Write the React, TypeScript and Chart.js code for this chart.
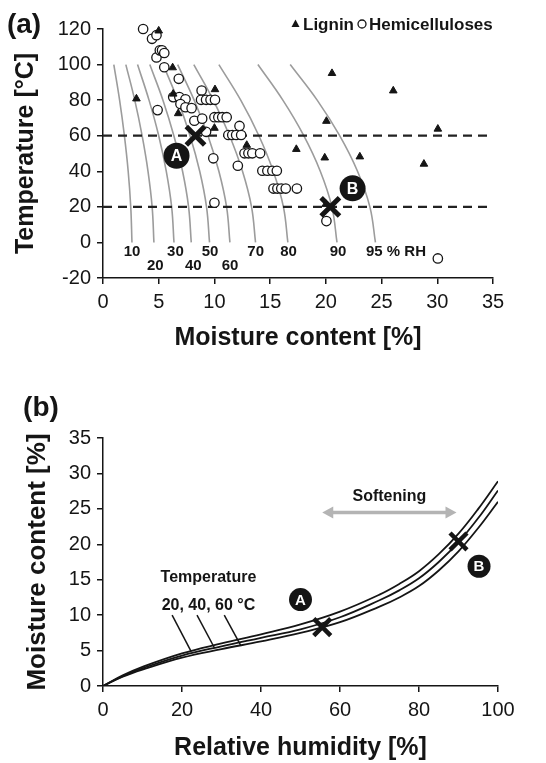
import React, { useEffect, useRef } from 'react';
import { Chart, registerables } from 'chart.js';

Chart.register(...registerables);

const FONT = "'Liberation Sans', Arial, Helvetica, sans-serif";
const INK = '#151515';
const GREY = '#9c9c9c';

// ---------------- Panel (a): temperature vs moisture content ----------------
const ligninMC = [5.0, 6.25, 3.0, 6.3, 10.05, 6.75, 10.0, 12.9, 17.35, 19.9, 23.05, 20.55, 26.05, 20.05, 30.05, 28.8, 20.0];
const ligninT = [119, 98.3, 80.8, 83.5, 86, 72.5, 64.3, 54.7, 52.4, 47.6, 48.2, 95.1, 85.3, 68.2, 63.8, 44.1, 21.5];

const hemiMC = [3.6, 4.4, 4.8, 4.8, 5.1, 5.3, 5.5, 5.5, 6.8, 6.3, 6.85, 7.4, 6.95, 7.4, 7.95, 4.9, 8.2, 8.9, 9.25, 8.85, 8.8, 9.25, 9.65, 10.05, 10.0, 10.35, 10.7, 11.1, 12.25, 11.25, 11.6, 11.95, 12.4, 9.9, 12.1, 12.7, 13.05, 13.4, 14.1, 14.3, 14.75, 15.2, 15.6, 15.3, 15.65, 16.0, 16.4, 17.4, 10.0, 20.05, 30.05];
const hemiT = [120, 114.5, 116.5, 104, 108, 108, 106.5, 98.5, 92, 81.7, 81.7, 80.5, 77.8, 76, 75.5, 74.4, 68.4, 69.6, 62.2, 85.4, 80.2, 80.2, 80.2, 80.2, 70.4, 70.4, 70.4, 70.4, 65.5, 60.4, 60.4, 60.4, 60.4, 47.3, 43.1, 50.1, 50.1, 50.1, 50.1, 40.3, 40.3, 40.3, 40.3, 30.3, 30.3, 30.3, 30.3, 30.3, 22.3, 12, -9];

// isotherm (constant RH) curves: moisture content at each temperature
const rhTemps = [100, 80, 60, 40, 20, 0];
const rh10 = [0.97, 1.49, 1.92, 2.26, 2.49, 2.6];
const rh20 = [2.05, 2.85, 3.51, 4.04, 4.41, 4.57];
const rh30 = [3.1, 4.13, 5.0, 5.68, 6.16, 6.37];
const rh40 = [4.2, 5.38, 6.36, 7.14, 7.68, 7.92];
const rh50 = [5.4, 6.71, 7.81, 8.68, 9.29, 9.56];
const rh60 = [6.7, 8.18, 9.42, 10.4, 11.09, 11.39];
const rh70 = [8.15, 9.9, 11.36, 12.52, 13.33, 13.69];
const rh80 = [10.4, 12.36, 13.99, 15.28, 16.19, 16.59];
const rh90 = [13.9, 16.14, 18.02, 19.5, 20.54, 21.0];
const rh95 = [16.8, 19.22, 21.24, 22.84, 23.95, 24.45];
const rhCurves = [rh10, rh20, rh30, rh40, rh50, rh60, rh70, rh80, rh90, rh95];

const rhLabels = ['10', '20', '30', '40', '50', '60', '70', '80', '90', '95 % RH'];
const rhLabelMC = [2.6, 4.7, 6.5, 8.1, 9.6, 11.4, 13.7, 16.65, 21.1, 23.6];
const rhLabelT = [-5.2, -13.2, -5.2, -13.2, -5.2, -13.2, -5.2, -5.2, -5.2, -5.2];

const refTemps = [60, 20];
const refMC = [0, 34.5];

const crossMC = [8.3, 20.4];
const crossT = [60, 20];
const markerText = ['A', 'B'];
const markerMC = [6.6, 22.4];
const markerT = [48.7, 30.4];

// ---------------- Panel (b): moisture content vs relative humidity ----------------
const rhAxis = [0, 5, 10, 20, 30, 40, 50, 60, 70, 75, 80, 85, 90, 95, 100];
const mc20C = [0, 1.5, 2.7, 4.6, 6.0, 7.3, 8.7, 10.5, 12.9, 14.4, 16.2, 18.6, 21.5, 25.0, 28.9];
const mc40C = [0, 1.4, 2.5, 4.3, 5.6, 6.8, 8.0, 9.7, 12.1, 13.5, 15.2, 17.5, 20.3, 23.7, 27.6];
const mc60C = [0, 1.3, 2.3, 4.0, 5.2, 6.3, 7.5, 9.0, 11.2, 12.5, 14.1, 16.3, 19.0, 22.3, 26.0];

const crossRH = [55.5, 90];
const crossMCb = [8.3, 20.4];
const markerRH = [50, 95.2];
const markerMCb = [12.2, 16.9];

const leaderFromRH = [17.5, 23.8, 30.7];
const leaderFromMC = [10.0, 10.0, 10.0];
const leaderToRH = [22.3, 28.2, 34.9];
const leaderToMC = [4.9, 5.4, 5.7];

const tempTitle = 'Temperature';
const tempList = '20, 40, 60 °C';
const tempLabelRH = 26.7;
const tempTitleMC = 15.3;
const tempListMC = 11.4;

const softText = 'Softening';
const softFromRH = 55.5;
const softToRH = 89.5;
const softMC = 24.5;
const softTextMC = 26.8;

const pts = (xs: number[], ys: number[]) => xs.map((x, i) => ({ x, y: ys[i] }));

function axis(min: number, max: number, step: number, title: string, titleSize: number, pad: { top: number; bottom: number }, fit: (s: any) => void, position: string) {
  return {
    type: 'linear',
    position,
    min,
    max,
    afterFit: fit,
    ticks: { stepSize: step, color: INK, font: { family: FONT, size: 20 }, padding: 6, maxRotation: 0, autoSkip: false },
    grid: { display: true, drawOnChartArea: false, drawTicks: true, tickLength: 6, color: INK, lineWidth: 1.5 },
    border: { display: true, color: INK, width: 1.5 },
    title: { display: true, text: title, color: INK, font: { family: FONT, size: titleSize, weight: 'bold' }, padding: pad },
  };
}

function drawLetters(ctx: CanvasRenderingContext2D, xs: number[], ys: number[], sx: any, sy: any, size: number) {
  ctx.font = `bold ${size}px ${FONT}`;
  ctx.fillStyle = '#ffffff';
  ctx.textAlign = 'center';
  ctx.textBaseline = 'middle';
  markerText.forEach((t, i) => {
    ctx.fillText(t, sx.getPixelForValue(xs[i]), sy.getPixelForValue(ys[i]) + 1);
  });
}

const panelAPlugin = {
  id: 'panelA',
  afterDatasetsDraw(chart: any) {
    const { ctx, scales } = chart;
    const sx = scales.x;
    const sy = scales.y;
    ctx.save();
    // RH labels
    ctx.font = `bold 15px ${FONT}`;
    ctx.fillStyle = INK;
    ctx.textBaseline = 'middle';
    rhLabels.forEach((t, i) => {
      ctx.textAlign = i === rhLabels.length - 1 ? 'left' : 'center';
      ctx.fillText(t, sx.getPixelForValue(rhLabelMC[i]), sy.getPixelForValue(rhLabelT[i]));
    });
    drawLetters(ctx, markerMC, markerT, sx, sy, 16);
    // legend
    const ly = 24;
    ctx.fillStyle = INK;
    ctx.beginPath();
    ctx.moveTo(295.5, ly - 4.5);
    ctx.lineTo(299.5, ly + 3);
    ctx.lineTo(291.5, ly + 3);
    ctx.closePath();
    ctx.fill();
    ctx.font = `bold 17px ${FONT}`;
    ctx.textAlign = 'left';
    ctx.textBaseline = 'middle';
    ctx.fillText('Lignin', 303, ly + 1);
    ctx.beginPath();
    ctx.arc(362, ly, 4, 0, Math.PI * 2);
    ctx.strokeStyle = INK;
    ctx.lineWidth = 1.3;
    ctx.stroke();
    ctx.fillText('Hemicelluloses', 369, ly + 1);
    // panel label
    ctx.font = `bold 28px ${FONT}`;
    ctx.textAlign = 'center';
    ctx.fillText('(a)', 24, 25);
    ctx.restore();
  },
};

const panelBPlugin = {
  id: 'panelB',
  afterDatasetsDraw(chart: any) {
    const { ctx, scales } = chart;
    const sx = scales.x;
    const sy = scales.y;
    ctx.save();
    // softening arrow
    const x0 = sx.getPixelForValue(softFromRH);
    const x1 = sx.getPixelForValue(softToRH);
    const ay = sy.getPixelForValue(softMC);
    const head = 11;
    ctx.strokeStyle = '#b4b4b4';
    ctx.fillStyle = '#b4b4b4';
    ctx.lineWidth = 3.5;
    ctx.beginPath();
    ctx.moveTo(x0 + head - 1, ay);
    ctx.lineTo(x1 - head + 1, ay);
    ctx.stroke();
    ctx.beginPath();
    ctx.moveTo(x0, ay);
    ctx.lineTo(x0 + head, ay - 6);
    ctx.lineTo(x0 + head, ay + 6);
    ctx.closePath();
    ctx.fill();
    ctx.beginPath();
    ctx.moveTo(x1, ay);
    ctx.lineTo(x1 - head, ay - 6);
    ctx.lineTo(x1 - head, ay + 6);
    ctx.closePath();
    ctx.fill();
    // texts
    ctx.fillStyle = INK;
    ctx.font = `bold 16px ${FONT}`;
    ctx.textAlign = 'center';
    ctx.textBaseline = 'middle';
    ctx.fillText(softText, sx.getPixelForValue((softFromRH + softToRH) / 2), sy.getPixelForValue(softTextMC));
    ctx.fillText(tempTitle, sx.getPixelForValue(tempLabelRH), sy.getPixelForValue(tempTitleMC));
    ctx.fillText(tempList, sx.getPixelForValue(tempLabelRH), sy.getPixelForValue(tempListMC));
    drawLetters(ctx, markerRH, markerMCb, sx, sy, 15);
    ctx.fillStyle = INK;
    ctx.font = `bold 28px ${FONT}`;
    ctx.textAlign = 'center';
    ctx.fillText('(b)', 41, 48);
    ctx.restore();
  },
};

export default function App() {
  const refA = useRef<HTMLCanvasElement>(null);
  const refB = useRef<HTMLCanvasElement>(null);

  useEffect(() => {
    const datasetsA: any[] = [
      {
        data: pts(crossMC, crossT),
        pointStyle: 'crossRot',
        pointRadius: 13,
        pointBorderWidth: 5,
        borderColor: INK,
        backgroundColor: INK,
        showLine: false,
        clip: false,
      },
      {
        data: pts(markerMC, markerT),
        pointStyle: 'circle',
        pointRadius: 13,
        pointBorderWidth: 0,
        borderColor: INK,
        backgroundColor: INK,
        showLine: false,
        clip: false,
      },
      {
        data: pts(ligninMC, ligninT),
        pointStyle: 'triangle',
        pointRadius: 4.4,
        pointBorderWidth: 1,
        borderColor: INK,
        backgroundColor: INK,
        showLine: false,
        clip: false,
      },
      {
        data: pts(hemiMC, hemiT),
        pointStyle: 'circle',
        pointRadius: 4.7,
        pointBorderWidth: 1.3,
        borderColor: INK,
        backgroundColor: '#ffffff',
        showLine: false,
        clip: false,
      },
      ...refTemps.map((t) => ({
        data: pts(refMC, [t, t]),
        showLine: true,
        borderColor: '#222',
        borderWidth: 2.2,
        borderDash: [9, 6],
        pointRadius: 0,
        clip: false,
      })),
      ...rhCurves.map((c) => ({
        data: pts(c, rhTemps),
        showLine: true,
        borderColor: GREY,
        borderWidth: 1.6,
        tension: 0.4,
        pointRadius: 0,
      })),
    ];

    const chartA = new Chart(refA.current as HTMLCanvasElement, {
      type: 'scatter',
      data: { datasets: datasetsA },
      options: {
        animation: false,
        responsive: false,
        layout: { padding: { left: 0, right: 53, top: 29, bottom: 0 } },
        plugins: { legend: { display: false }, tooltip: { enabled: false } },
        scales: {
          x: axis(0, 35, 5, 'Moisture content [%]', 25, { top: 0, bottom: 7 }, (s) => { s.height = 82; }, 'bottom'),
          y: axis(-20, 120, 20, 'Temperature [°C]', 25, { top: 11, bottom: 0 }, (s) => { s.width = 103; }, 'left'),
        },
      } as any,
      plugins: [panelAPlugin],
    });

    const datasetsB: any[] = [
      {
        data: pts(crossRH, crossMCb),
        pointStyle: 'crossRot',
        pointRadius: 12,
        pointBorderWidth: 4.5,
        borderColor: INK,
        backgroundColor: INK,
        showLine: false,
        clip: false,
      },
      {
        data: pts(markerRH, markerMCb),
        pointStyle: 'circle',
        pointRadius: 11.5,
        pointBorderWidth: 0,
        borderColor: INK,
        backgroundColor: INK,
        showLine: false,
        clip: false,
      },
      ...leaderFromRH.map((r, i) => ({
        data: pts([r, leaderToRH[i]], [leaderFromMC[i], leaderToMC[i]]),
        showLine: true,
        borderColor: INK,
        borderWidth: 1.5,
        pointRadius: 0,
      })),
      ...[mc20C, mc40C, mc60C].map((c) => ({
        data: pts(rhAxis, c),
        showLine: true,
        borderColor: INK,
        borderWidth: 1.8,
        tension: 0.4,
        pointRadius: 0,
      })),
    ];

    const chartB = new Chart(refB.current as HTMLCanvasElement, {
      type: 'scatter',
      data: { datasets: datasetsB },
      options: {
        animation: false,
        responsive: false,
        layout: { padding: { left: 0, right: 48, top: 78, bottom: 0 } },
        plugins: { legend: { display: false }, tooltip: { enabled: false } },
        scales: {
          x: axis(0, 100, 20, 'Relative humidity [%]', 25, { top: 0, bottom: 0 }, (s) => { s.height = 77; }, 'bottom'),
          y: axis(0, 35, 5, 'Moisture content [%]', 26, { top: 22, bottom: 0 }, (s) => { s.width = 103; }, 'left'),
        },
      } as any,
      plugins: [panelBPlugin],
    });

    return () => {
      chartA.destroy();
      chartB.destroy();
    };
  }, []);

  return (
    <div style={{ position: 'absolute', left: 0, top: 0, width: 546, height: 763, background: '#ffffff' }}>
      <canvas ref={refA} width={546} height={360} style={{ position: 'absolute', left: 0, top: 0, width: 546, height: 360 }} />
      <canvas ref={refB} width={546} height={403} style={{ position: 'absolute', left: 0, top: 360, width: 546, height: 403 }} />
    </div>
  );
}
